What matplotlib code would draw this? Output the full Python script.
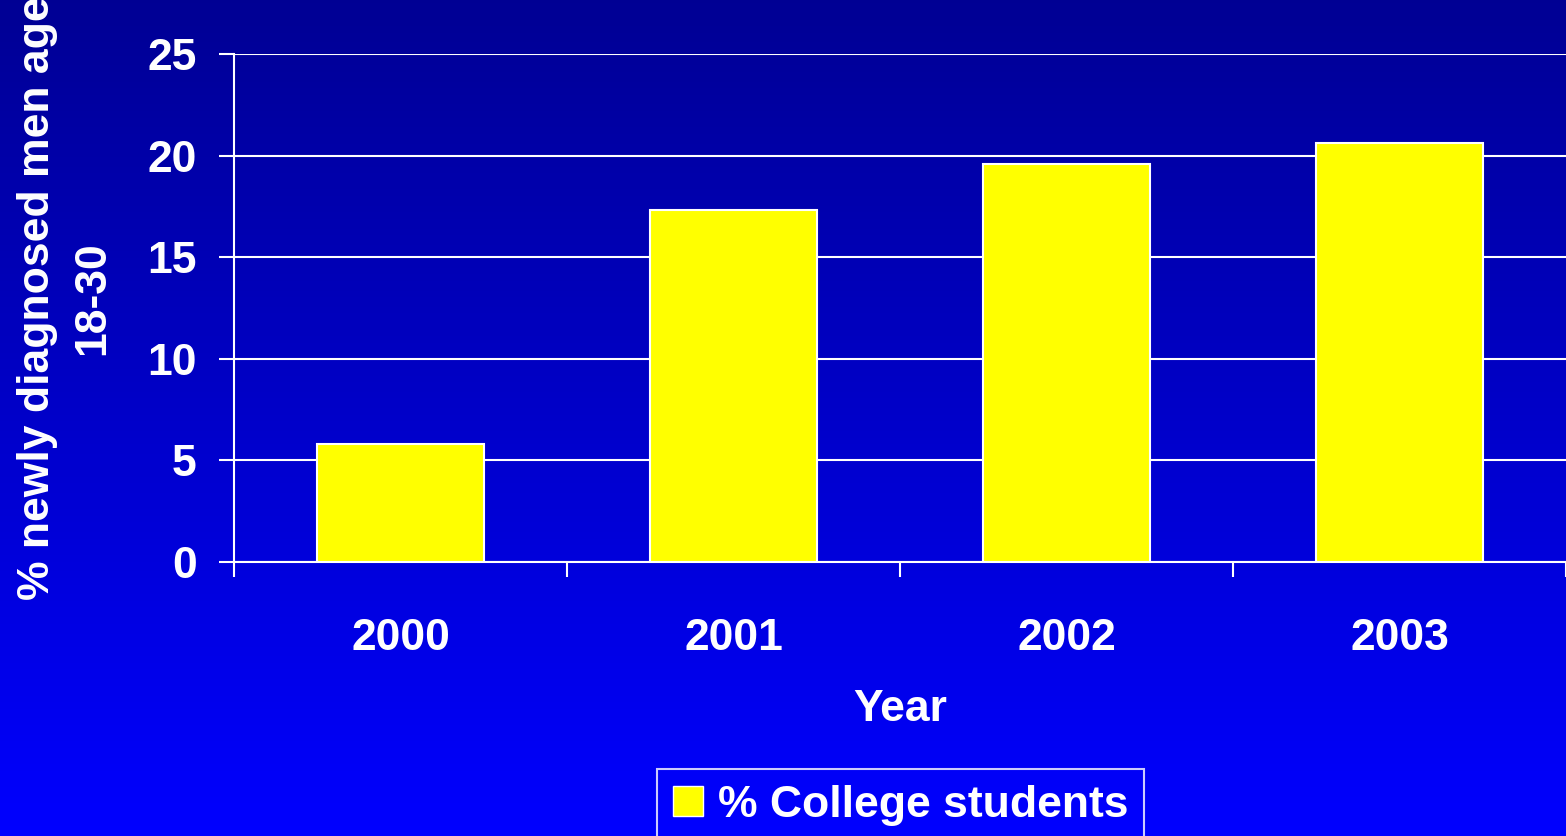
import numpy as np
import matplotlib
matplotlib.use("Agg")
import matplotlib.pyplot as plt
from matplotlib.patches import Patch

years = ["2000", "2001", "2002", "2003"]
college_pct = [5.8, 17.3, 19.6, 20.6]
series_name = "% College students"
y_ticks = [0, 5, 10, 15, 20, 25]
ylabel = "% newly diagnosed men age\n18-30"
xlabel = "Year"

plt.rcParams['font.family'] = ['Liberation Sans', 'DejaVu Sans']
plt.rcParams['font.weight'] = 'bold'

W, H = 1566, 836
fig = plt.figure(figsize=(W / 100, H / 100), dpi=100)

# background gradient
bg = fig.add_axes([0, 0, 1, 1], zorder=-10)
grad = np.linspace(0.58, 1.0, 256)
img = np.zeros((256, 1, 3))
img[:, 0, 2] = grad
bg.imshow(img, aspect='auto', extent=[0, 1, 0, 1], origin='upper')
bg.set_axis_off()

left, right, top, bottom = 234, 1566, 54, 562
ax = fig.add_axes([left / W, 1 - bottom / H, (right - left) / W, (bottom - top) / H])
ax.patch.set_alpha(0)

x = np.arange(len(years))
ax.bar(x, college_pct, width=0.5, color='#FFFF00', edgecolor='white', linewidth=1.5, zorder=3)

ax.set_xlim(-0.5, len(years) - 0.5)
ax.set_ylim(0, 25)
ax.set_yticks(y_ticks)
ax.set_yticklabels([str(t) for t in y_ticks])
ax.yaxis.grid(True, color='white', linewidth=1.5, zorder=1)
ax.set_axisbelow(True)

# category boundary ticks (major) and centered labels (minor)
ax.set_xticks(np.arange(len(years) + 1) - 0.5)
ax.set_xticklabels([])
ax.set_xticks(x, minor=True)
ax.set_xticklabels(years, minor=True)
ax.tick_params(axis='x', which='major', length=11, width=1.5, color='white', direction='out')
ax.tick_params(axis='x', which='minor', length=0, pad=40, labelsize=32, labelcolor='white')
ax.tick_params(axis='y', length=11, width=1.5, color='white', direction='out', pad=16,
               labelsize=32, labelcolor='white')

for s in ['top', 'right']:
    ax.spines[s].set_visible(False)
for s in ['left', 'bottom']:
    ax.spines[s].set_color('white')
    ax.spines[s].set_linewidth(1.5)

ax.set_xlabel(xlabel, fontsize=32, color='white', fontweight='bold', labelpad=22)
ax.set_ylabel(ylabel, fontsize=32, color='white', fontweight='bold', labelpad=24,
              linespacing=1.45, y=0.519)

handle = Patch(facecolor='#FFFF00', edgecolor='white', linewidth=1.0)
leg = fig.legend([handle], [series_name], loc='upper left',
                 bbox_to_anchor=(657 / W, 1 - 769 / H), fontsize=32,
                 frameon=True, fancybox=False, edgecolor='white', facecolor='none',
                 handlelength=0.68, handleheight=0.68, handletextpad=0.35,
                 borderpad=0.35, borderaxespad=0)
leg.get_frame().set_linewidth(1.5)
for t in leg.get_texts():
    t.set_color('white')
    t.set_fontweight('bold')

fig.savefig('out.png', dpi=100)
